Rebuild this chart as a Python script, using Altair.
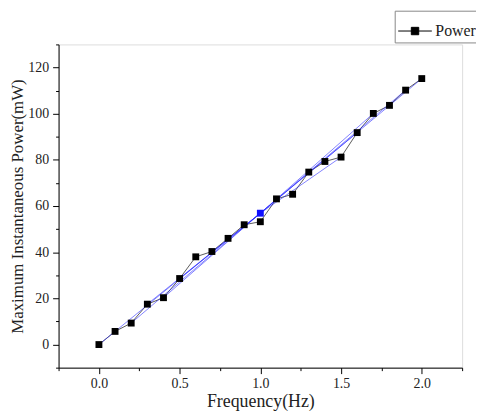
import altair as alt
import pandas as pd

# Measured data (black squares)
freq = [0.0, 0.1, 0.2, 0.3, 0.4, 0.5, 0.6, 0.7, 0.8, 0.9, 1.0,
        1.1, 1.2, 1.3, 1.4, 1.5, 1.6, 1.7, 1.8, 1.9, 2.0]
power = [0.0, 5.7, 9.3, 17.5, 20.3, 28.6, 38.0, 40.3, 46.0, 51.9, 53.2,
         63.1, 65.1, 74.7, 79.3, 81.2, 91.8, 100.1, 103.6, 110.2, 115.2]

# Thin blue guide lines
blue_group = ["a", "a", "a", "b", "b", "b", "c", "c", "c", "d", "d", "d", "e", "e", "e"]
blue_x = [0.0, 1.0, 2.0, 0.3, 1.0, 1.7, 0.5, 1.0, 1.5, 0.4, 1.0, 1.6, 0.2, 1.0, 1.9]
blue_y = [0.0, 56.9, 115.2, 17.5, 56.9, 100.1, 28.6, 56.9, 81.2, 20.3, 56.9, 91.8, 9.3, 56.9, 110.2]

# Blue highlighted point
blue_pt_x = [1.0]
blue_pt_y = [56.9]

x_major = [0.0, 0.5, 1.0, 1.5, 2.0]
x_minor = [-0.25, 0.25, 0.75, 1.25, 1.75, 2.25]
y_major = [0, 20, 40, 60, 80, 100, 120]
y_minor = [-10, 10, 30, 50, 70, 90, 110, 130]

df = pd.DataFrame({"f": freq, "p": power, "series": ["Power"] * len(freq)})
dfb = pd.DataFrame({"g": blue_group, "f": blue_x, "p": blue_y})
dfp = pd.DataFrame({"f": blue_pt_x, "p": blue_pt_y})

FONT = "Liberation Serif"

xscale = alt.Scale(domain=[-0.25, 2.25], nice=False, zero=False)
yscale = alt.Scale(domain=[-10, 130], nice=False, zero=False)

common = dict(grid=False, domainColor="black", tickColor="black", labelColor="#222",
              labelFont=FONT, labelFontSize=14, titleFont=FONT,
              titleFontWeight="normal", titleColor="#222",
              labelFlush=False, labelOverlap=False)

xaxis = alt.Axis(title="Frequency(Hz)", values=x_major, format=".1f", tickSize=6,
                 labelPadding=3, titlePadding=2, titleFontSize=18, orient="bottom", **common)
yaxis = alt.Axis(title="Maximum Instantaneous Power(mW)", values=y_major, format="d",
                 tickSize=6, labelPadding=4, titlePadding=1, titleFontSize=17,
                 orient="left", **common)

xaxis_minor = alt.Axis(title=None, values=x_minor, tickSize=3, labels=False, domain=False,
                       grid=False, tickColor="black", orient="bottom")
yaxis_minor = alt.Axis(title=None, values=y_minor, tickSize=3, labels=False, domain=False,
                       grid=False, tickColor="black", orient="left")

black_line = alt.Chart(df).mark_line(color="#333333", strokeWidth=0.8).encode(
    x=alt.X("f:Q", scale=xscale, axis=xaxis),
    y=alt.Y("p:Q", scale=yscale, axis=yaxis))

blue_lines = alt.Chart(dfb).mark_line(color="#2020ff", strokeWidth=0.7, opacity=0.8).encode(
    x=alt.X("f:Q", scale=xscale, axis=xaxis_minor),
    y=alt.Y("p:Q", scale=yscale, axis=yaxis_minor),
    detail="g:N")

squares = alt.Chart(df).mark_point(shape="square", filled=True, size=48, opacity=1).encode(
    x=alt.X("f:Q", scale=xscale, axis=None),
    y=alt.Y("p:Q", scale=yscale, axis=None),
    color=alt.Color("series:N", scale=alt.Scale(range=["black"]),
                    legend=alt.Legend(
                        title=None, orient="none", legendX=339, legendY=-34,
                        strokeColor="#888888", padding=3,
                        symbolType="M-1,0L1,0M-0.22,-0.22L0.22,-0.22L0.22,0.22L-0.22,0.22Z",
                        symbolSize=1150, symbolFillColor="black", symbolStrokeColor="black",
                        symbolStrokeWidth=1, labelFont=FONT, labelFontSize=16,
                        labelColor="#222", labelOffset=3)),
)

blue_point = alt.Chart(dfp).mark_point(shape="square", filled=True, size=48, color="#1010ff", opacity=1).encode(
    x=alt.X("f:Q", scale=xscale, axis=None),
    y=alt.Y("p:Q", scale=yscale, axis=None))

chart = alt.layer(black_line, blue_lines, squares, blue_point).resolve_axis(
    x="independent", y="independent"
).properties(
    width=407, height=326,
    autosize="none",
    padding={"left": 51, "top": 35, "right": 14, "bottom": 43},
).configure_view(stroke=None).configure(background="white")

chart.save("out.html", embed_options={"renderer": "svg", "actions": False})
